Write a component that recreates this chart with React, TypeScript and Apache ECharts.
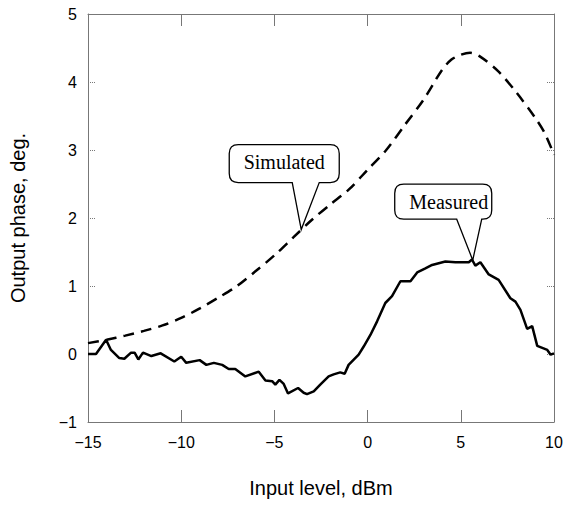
import React, { useEffect, useRef } from "react";
import * as echarts from "echarts";

// ---- data ----
const simX = [-15, -14, -13, -12, -11, -10, -9, -8, -7, -6, -5, -4, -3, -2, -1, 0, 1, 2, 3, 4, 4.5, 5, 5.5, 6, 7, 8, 9, 9.5, 10];
const simY = [0.16, 0.21, 0.27, 0.34, 0.42, 0.53, 0.67, 0.83, 1.0, 1.22, 1.45, 1.71, 1.97, 2.2, 2.42, 2.71, 3.0, 3.37, 3.74, 4.18, 4.33, 4.4, 4.43, 4.38, 4.16, 3.84, 3.47, 3.25, 2.93];

const measX = [-15, -14.57, -14.03, -13.77, -13.32, -13.05, -12.69, -12.5, -12.3, -12.05, -11.6, -11.1, -10.37, -10.0, -9.73, -9.01, -8.65, -8.25, -7.8, -7.45, -7.1, -6.56, -5.84, -5.48, -5.12, -4.95, -4.73, -4.5, -4.27, -3.73, -3.43, -3.25, -2.89, -2.54, -2.09, -1.82, -1.47, -1.23, -1.02, -0.48, -0.21, 0.15, 0.51, 0.95, 1.31, 1.76, 2.3, 2.66, 3.1, 3.46, 4.17, 4.71, 5.43, 5.6, 5.78, 6.05, 6.5, 7.03, 7.66, 7.93, 8.2, 8.56, 8.83, 9.1, 9.64, 9.82, 10.0];
const measY = [0.0, 0.0, 0.21, 0.06, -0.06, -0.07, 0.02, 0.02, -0.08, 0.02, -0.03, 0.01, -0.11, -0.04, -0.13, -0.09, -0.16, -0.13, -0.16, -0.22, -0.22, -0.33, -0.26, -0.39, -0.4, -0.45, -0.38, -0.44, -0.58, -0.5, -0.57, -0.59, -0.55, -0.45, -0.33, -0.3, -0.27, -0.29, -0.16, -0.01, 0.11, 0.28, 0.48, 0.75, 0.85, 1.07, 1.07, 1.2, 1.26, 1.31, 1.36, 1.35, 1.35, 1.39, 1.3, 1.35, 1.17, 1.09, 0.82, 0.77, 0.65, 0.37, 0.41, 0.12, 0.06, -0.01, 0.01];

const xTicks = { min: -15, max: 10, interval: 5 };
const yTicks = { min: -1, max: 5, interval: 1 };

const xName = "Input level, dBm";
const yName = "Output phase, deg.";

// callout annotations: label and the data point the pointer touches
const simLabel = "Simulated";
const simTip = [-3.56, 1.83];
const measLabel = "Measured";
const measTip = [5.64, 1.38];

// ---- callout shapes (relative to pointer tip) ----
const simPath =
  "M -9 -47 L 0 0 L 18 -47 L 29 -47 Q 38 -47 38 -56 L 38 -76 Q 38 -85 29 -85 L -63 -85 Q -72 -85 -72 -76 L -72 -56 Q -72 -47 -63 -47 Z";
const measPath =
  "M -16 -41 L 0 0 L 9 -41 L 10 -41 Q 19 -41 19 -50 L 19 -67 Q 19 -76 10 -76 L -69 -76 Q -78 -76 -78 -67 L -78 -50 Q -78 -41 -69 -41 Z";

echarts.graphic.registerShape("simCallout", echarts.graphic.extendPath(simPath, {}) as any);
echarts.graphic.registerShape("measCallout", echarts.graphic.extendPath(measPath, {}) as any);

const axisColor = "#777";
const fmt = (v: number) => String(v).replace("-", "\u2212");

export default function App() {
  const ref = useRef<HTMLDivElement>(null);

  useEffect(() => {
    if (!ref.current) return;
    const chart = echarts.init(ref.current, null, { renderer: "svg" });

    const xBase = {
      type: "value" as const,
      min: xTicks.min,
      max: xTicks.max,
      interval: xTicks.interval,
      axisLine: { show: true, onZero: false, lineStyle: { color: axisColor, width: 1 } },
      axisTick: { show: true, inside: true, length: 12, lineStyle: { color: axisColor, width: 1 } },
      splitLine: { show: false },
    };
    const yBase = {
      type: "value" as const,
      min: yTicks.min,
      max: yTicks.max,
      interval: yTicks.interval,
      axisLine: { show: true, onZero: false, lineStyle: { color: axisColor, width: 1 } },
      axisTick: { show: true, inside: true, length: 7, lineStyle: { color: axisColor, width: 1, type: "dotted" as const } },
      splitLine: { show: false },
    };

    chart.setOption({
      animation: false,
      backgroundColor: "#fff",
      grid: { left: 86, right: 15, top: 14, bottom: 83, containLabel: false },
      xAxis: [
        {
          ...xBase,
          position: "bottom",
          name: xName,
          nameLocation: "middle",
          nameGap: 56,
          nameTextStyle: { fontFamily: "Liberation Sans", fontSize: 20, color: "#000" },
          axisLabel: { formatter: fmt, fontFamily: "Liberation Sans", fontSize: 16, color: "#000", margin: 12 },
        },
        { ...xBase, position: "top", axisLabel: { show: false } },
      ],
      yAxis: [
        {
          ...yBase,
          position: "left",
          name: yName,
          nameLocation: "middle",
          nameGap: 60,
          nameTextStyle: { fontFamily: "Liberation Sans", fontSize: 20, color: "#000" },
          axisLabel: { formatter: fmt, fontFamily: "Liberation Sans", fontSize: 16, color: "#000", margin: 11 },
        },
        { ...yBase, position: "right", axisLabel: { show: false } },
      ],
      series: [
        {
          name: simLabel,
          type: "line",
          data: simX.map((x, i) => [x, simY[i]]),
          symbol: "none",
          smooth: 0.3,
          lineStyle: { color: "#000", width: 2.5, type: [11, 7] },
          z: 3,
        },
        {
          name: measLabel,
          type: "line",
          data: measX.map((x, i) => [x, measY[i]]),
          symbol: "none",
          lineStyle: { color: "#000", width: 2.5 },
          z: 4,
        },
      ],
    });

    const sp = chart.convertToPixel({ gridIndex: 0 }, simTip) as number[];
    const mp = chart.convertToPixel({ gridIndex: 0 }, measTip) as number[];

    chart.setOption({
      graphic: [
        {
          type: "simCallout",
          x: sp[0],
          y: sp[1],
          z: 100,
          style: { fill: "#fff", stroke: "#000", lineWidth: 1.3 },
        },
        {
          type: "text",
          x: sp[0] - 17,
          y: sp[1] - 68,
          z: 101,
          style: {
            text: simLabel,
            fontFamily: "Liberation Serif",
            fontSize: 20,
            fill: "#000",
            align: "center",
            verticalAlign: "middle",
          },
        },
        {
          type: "measCallout",
          x: mp[0],
          y: mp[1],
          z: 100,
          style: { fill: "#fff", stroke: "#000", lineWidth: 1.3 },
        },
        {
          type: "text",
          x: mp[0] - 24,
          y: mp[1] - 58,
          z: 101,
          style: {
            text: measLabel,
            fontFamily: "Liberation Serif",
            fontSize: 20,
            fill: "#000",
            align: "center",
            verticalAlign: "middle",
          },
        },
      ],
    });

    return () => chart.dispose();
  }, []);

  return (
    <div
      ref={ref}
      style={{ position: "fixed", left: 0, top: 0, width: 569, height: 505, background: "#fff" }}
    />
  );
}
